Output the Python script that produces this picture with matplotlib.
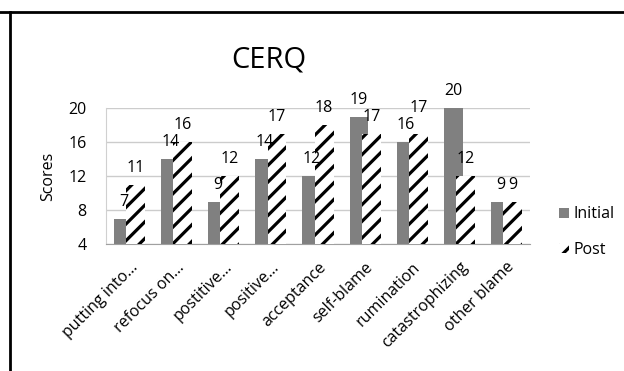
import matplotlib
matplotlib.use("Agg")
import matplotlib.pyplot as plt
from matplotlib.lines import Line2D
import numpy as np

categories = ["putting into...", "refocus on...", "postitive...", "positive...",
              "acceptance", "self-blame", "rumination", "catastrophizing", "other blame"]
initial = [7, 14, 9, 14, 12, 19, 16, 20, 9]
post = [11, 16, 12, 17, 18, 17, 17, 12, 9]
yticks = [4, 8, 12, 16, 20]

plt.rcParams['font.family'] = ['Open Sans', 'DejaVu Sans']
plt.rcParams['hatch.linewidth'] = 2.3

fig = plt.figure(figsize=(6.24, 3.71), dpi=100)
ax = fig.add_axes([106/624, 1-244/371, 424/624, 136/371])

x = np.arange(len(categories))
w = 0.40
off = 0.13
b1 = ax.bar(x - off, np.array(initial) - 4, w, bottom=4, color='#808080', zorder=2)
b2 = ax.bar(x + off, np.array(post) - 4, w, bottom=4, facecolor='white',
            edgecolor='black', hatch='//', linewidth=0, zorder=3)

base = 12
lab_i = []
lab_p = []
for xi, v in zip(x - off, initial):
    lab_i.append(ax.annotate(str(v), (xi, v), xytext=(0, base), textcoords='offset points',
                             ha='center', va='center', fontsize=11.5, zorder=5))
for xi, v in zip(x + off, post):
    lab_p.append(ax.annotate(str(v), (xi, v), xytext=(0, base), textcoords='offset points',
                             ha='center', va='center', fontsize=11.5, zorder=5))

ax.set_xlim(-0.5, len(categories) - 0.5)
ax.set_ylim(4, 20)
ax.set_yticks(yticks)
ax.yaxis.grid(True, color='#cccccc', linewidth=1, zorder=0)
ax.set_axisbelow(True)
for s in ['top', 'right']:
    ax.spines[s].set_visible(False)
ax.spines['left'].set_color('#d0d0d0')
ax.spines['bottom'].set_color('#a0a0a0')
ax.tick_params(axis='both', length=0, labelsize=11.5)
ax.tick_params(axis='y', pad=14)
ax.set_xticks(x)
ax.set_xticklabels(categories, rotation=45, ha='right', rotation_mode='anchor')
ax.tick_params(axis='x', pad=11)
ax.set_ylabel('Scores', fontsize=11.5)
ax.yaxis.set_label_coords(-0.118, 0.5)

leg = fig.legend([b1, b2], ['Initial', 'Post'], loc='center left',
                 bbox_to_anchor=(553/624, 1-232/371), frameon=False,
                 fontsize=11.5, handlelength=0.6, handleheight=0.6,
                 handletextpad=0.3, labelspacing=1.2, borderaxespad=0)

fig.text(269/624, 1-60/371, 'CERQ', fontsize=21, ha='center', va='center')

fig.add_artist(Line2D([0, 1], [1-12/371, 1-12/371], color='black', linewidth=2,
                      transform=fig.transFigure))
fig.add_artist(Line2D([10/624, 10/624], [0, 1-12/371], color='black', linewidth=2,
                      transform=fig.transFigure))

# nudge post labels upward if they collide with the initial label of the same group
fig.canvas.draw()
r = fig.canvas.get_renderer()
for a, b in zip(lab_i, lab_p):
    dy = base
    while a.get_window_extent(r).overlaps(b.get_window_extent(r)) and dy < 40:
        dy += 1
        b.set_position((0, dy))

fig.savefig('out.png', dpi=100)
